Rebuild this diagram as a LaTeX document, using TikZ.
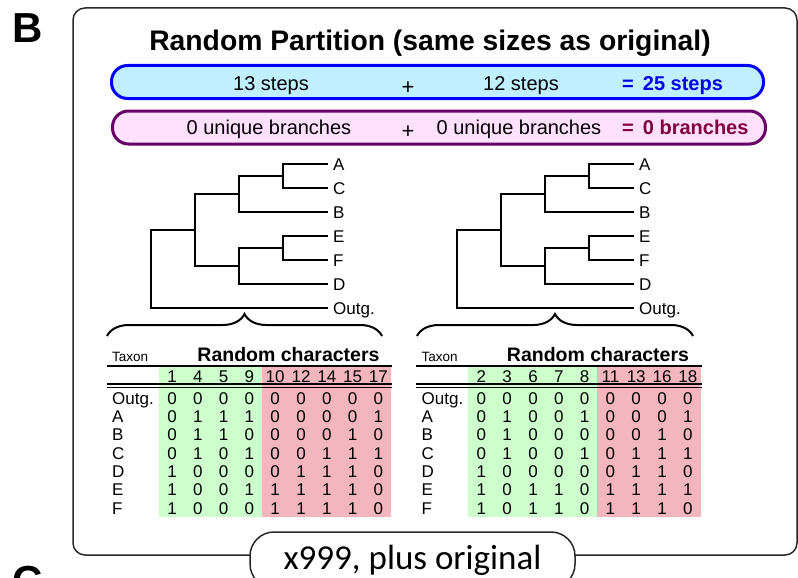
\documentclass[tikz,border=0pt]{standalone}
\usepackage{fontspec}
\setmainfont{Liberation Sans}
\newfontfamily\carlito{Carlito}
\usetikzlibrary{decorations.pathreplacing,positioning}
\definecolor{stepblue}{RGB}{0,0,255}
\definecolor{stepfill}{RGB}{192,240,255}
\definecolor{branchline}{RGB}{102,0,102}
\definecolor{branchfill}{RGB}{255,224,255}
\definecolor{sumblue}{RGB}{0,0,230}
\definecolor{summaroon}{RGB}{128,0,64}
\definecolor{bandgreen}{RGB}{204,255,204}
\definecolor{bandred}{RGB}{244,182,190}
\definecolor{framegray}{RGB}{40,40,40}
\tikzset{%
	panel/.style     = {font=\fontsize{42}{42}\selectfont\bfseries, inner sep=0pt},
	panelframe/.style= {draw=framegray, line width=1.5pt, rounded corners=12pt},
	headline/.style  = {font=\fontsize{28.3}{30}\selectfont\bfseries, inner sep=0pt, anchor=base},
	bar/.style       = {rounded corners=16pt, line width=3pt, minimum height=33pt, inner sep=0pt},
	bartext/.style   = {font=\fontsize{20}{22}\selectfont, inner sep=0pt, anchor=base},
	bartotal/.style  = {font=\fontsize{20}{22}\selectfont\bfseries, inner sep=0pt, anchor=base west},
	plussign/.style  = {font=\fontsize{22}{22}\selectfont, inner sep=0pt},
	branch/.style    = {line width=1.5pt},
	leaf/.style      = {font=\fontsize{17}{17}\selectfont, anchor=west, inner xsep=5pt, inner ysep=0pt, text height=12pt, text depth=0pt},
	charbrace/.style = {decorate, decoration={brace, amplitude=22pt}, line width=2pt},
	rule/.style      = {line width=1.8pt},
	thinrule/.style  = {line width=1.1pt},
	cell/.style      = {font=\fontsize{17}{17}\selectfont, inner sep=0pt, text height=12pt, text depth=0pt},
	rowlab/.style    = {cell, anchor=west},
	taxon/.style     = {font=\fontsize{13.5}{14}\selectfont, inner sep=0pt, anchor=base west},
	charhead/.style  = {font=\fontsize{19.5}{20}\selectfont\bfseries, inner sep=0pt, anchor=base},
	repbox/.style    = {draw=framegray, fill=white, line width=1.5pt, rounded corners=24pt, minimum width=325pt, minimum height=56pt, inner sep=0pt, font=\carlito\fontsize{35}{35}\selectfont},
}

\begin{document}
\begin{tikzpicture}[x=1pt,y=-1pt]
	\useasboundingbox (0,0) rectangle (798,578);
	\clip (0,0) rectangle (798,578);
	
	\node[panel] (labB) at (28,28) {B};
	\node[panel] (labC) at (28,581) {C};
	\draw[panelframe] (73,8) rectangle (797,555);
	
	\node[headline] (head) at (430,51) {Random Partition (same sizes as original)};
	
	% step and branch counts
	\node[bar, draw=stepblue, fill=stepfill, minimum width=652pt] (stepbar) at (437.5,82) {};
	\node[bartext] (stepsL) at (271,90) {13 steps};
	\node[plussign] (plusS) at (408,88) {+};
	\node[bartext] (stepsR) at (521,90) {12 steps};
	\node[bartotal, text=sumblue] (stepsum) at (622,90) {=\hspace{9pt}25 steps};
	
	\node[bar, draw=branchline, fill=branchfill, minimum width=653pt] (branchbar) at (439,127.5) {};
	\node[bartext] (brL) at (269,134) {0 unique branches};
	\node[plussign] (plusB) at (408,132) {+};
	\node[bartext] (brR) at (519,134) {0 unique branches};
	\node[bartotal, text=summaroon] (brsum) at (622,134) {=\hspace{9pt}0 branches};
	
	% the two trees
	\foreach \tx/\t in {0/1,306/2} {
		\foreach \nm/\lab/\y in {A/A/164,C/C/188,B/B/212,E/E/236,F/F/260,D/D/284,O/Outg./308}
			\node[leaf] (t\t-\nm) at (328+\tx,\y) {\lab};
		\coordinate (t\t-ac) at (283+\tx,176);
		\coordinate (t\t-acb) at (239+\tx,194);
		\coordinate (t\t-ef) at (283+\tx,248);
		\coordinate (t\t-efd) at (239+\tx,266);
		\coordinate (t\t-in) at (195+\tx,230);
		\coordinate (t\t-root) at (151+\tx,269);
		\draw[branch] (t\t-ac) |- (t\t-A.west) (t\t-ac) |- (t\t-C.west);
		\draw[branch] (t\t-acb) |- (t\t-ac) (t\t-acb) |- (t\t-B.west);
		\draw[branch] (t\t-ef) |- (t\t-E.west) (t\t-ef) |- (t\t-F.west);
		\draw[branch] (t\t-efd) |- (t\t-ef) (t\t-efd) |- (t\t-D.west);
		\draw[branch] (t\t-in) |- (t\t-acb) (t\t-in) |- (t\t-efd);
		\draw[branch] (t\t-root) |- (t\t-in) (t\t-root) |- (t\t-O.west);
	}
	
	\draw[charbrace] (107,336) -- (382,336);
	\draw[charbrace] (417,336) -- (693,336);
	
	% left character table
	\fill[bandgreen] (159,366) rectangle (262.3,517);
	\fill[bandred] (262.3,366) rectangle (391.3,517);
	\node[taxon] (taxL) at (112,361) {Taxon};
	\node[charhead] (charL) at (288.5,361) {Random characters};
	\draw[rule] (107,366) -- (392,366);
	\draw[thinrule] (107,384) -- (392,384) (107,387.5) -- (392,387.5);
	\foreach \n [count=\c] in {1,4,5,9,10,12,14,15,17}
		\node[cell] (hL\c) at (146.2+25.8*\c,376) {\n};
	\foreach \nm/\bits [count=\r] in {Outg./{0,0,0,0,0,0,0,0,0},A/{0,1,1,1,0,0,0,0,1},B/{0,1,1,0,0,0,0,1,0},C/{0,1,0,1,0,0,1,1,1},D/{1,0,0,0,0,1,1,1,0},E/{1,0,0,1,1,1,1,1,0},F/{1,0,0,0,1,1,1,1,0}} {
		\node[rowlab] (rL\r) at (112,379.7+18.35*\r) {\nm};
		\foreach \v [count=\c] in \bits
			\node[cell] (L\r-\c) at (146.2+25.8*\c,379.7+18.35*\r) {\v};
	}
	
	% right character table
	\fill[bandgreen] (468.4,366) rectangle (597.4,517);
	\fill[bandred] (597.4,366) rectangle (700.6,517);
	\node[taxon] (taxR) at (421.5,361) {Taxon};
	\node[charhead] (charR) at (598,361) {Random characters};
	\draw[rule] (416,366) -- (702,366);
	\draw[thinrule] (416,384) -- (702,384) (416,387.5) -- (702,387.5);
	\foreach \n [count=\c] in {2,3,6,7,8,11,13,16,18}
		\node[cell] (hR\c) at (455.6+25.8*\c,376) {\n};
	\foreach \nm/\bits [count=\r] in {Outg./{0,0,0,0,0,0,0,0,0},A/{0,1,0,0,1,0,0,0,1},B/{0,1,0,0,0,0,0,1,0},C/{0,1,0,0,1,0,1,1,1},D/{1,0,0,0,0,0,1,1,0},E/{1,0,1,1,0,1,1,1,1},F/{1,0,1,1,0,1,1,1,0}} {
		\node[rowlab] (rR\r) at (421.5,379.7+18.35*\r) {\nm};
		\foreach \v [count=\c] in \bits
			\node[cell] (R\r-\c) at (455.6+25.8*\c,379.7+18.35*\r) {\v};
	}
	
	\node[repbox] (reps) at (412.5,560) {x999, plus original};
\end{tikzpicture}
\end{document}
